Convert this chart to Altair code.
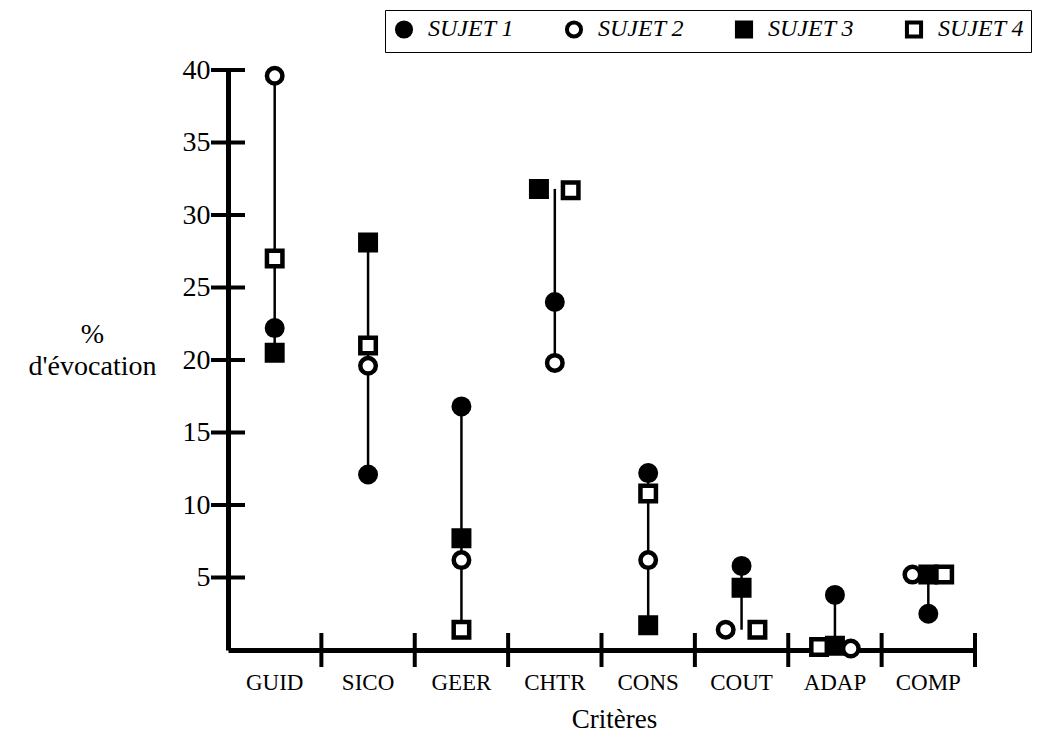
import altair as alt
import pandas as pd

criteres = ["GUID", "SICO", "GEER", "CHTR", "CONS", "COUT", "ADAP", "COMP"]
sujets = ["SUJET 1", "SUJET 2", "SUJET 3", "SUJET 4"]

sujet1 = [22.2, 12.1, 16.8, 24.0, 12.2, 5.8, 3.8, 2.5]
sujet2 = [39.6, 19.6, 6.2, 19.8, 6.2, 1.4, 0.1, 5.2]
sujet3 = [20.5, 28.1, 7.7, 31.8, 1.7, 4.3, 0.3, 5.2]
sujet4 = [27.0, 21.0, 1.4, 31.7, 10.8, 1.4, 0.2, 5.2]

# side-by-side slot of overlapping symbols (-1 left, 0 centre, +1 right)
slot1 = [0, 0, 0, 0, 0, 0, 0, 0]
slot2 = [0, 0, 0, 0, 0, -1, 1, -1]
slot3 = [0, 0, 0, -1, 0, 0, 0, 0]
slot4 = [0, 0, 0, 1, 0, 1, -1, 1]

y_ticks = [5, 10, 15, 20, 25, 30, 35, 40]

rows = []
for s, vals, slots in zip(sujets, [sujet1, sujet2, sujet3, sujet4], [slot1, slot2, slot3, slot4]):
    for i, (c, v, sl) in enumerate(zip(criteres, vals, slots)):
        rows.append({"critere": c, "idx": i, "sujet": s, "valeur": v, "slot": sl})
df = pd.DataFrame(rows)

cat_df = pd.DataFrame({"critere": criteres, "idx": list(range(len(criteres)))})
ytick_df = pd.DataFrame({"valeur": y_ticks})
xtick_df = pd.DataFrame({"idx": list(range(1, len(criteres) + 1))})

FONT = "Liberation Serif"
W, H = 747, 580

xscale = alt.Scale(domain=[0, len(criteres)], nice=False, zero=False)
yscale = alt.Scale(domain=[0, 40], nice=False)

xaxis = alt.Axis(title="Critères", labels=False, ticks=False, grid=False,
                 domainWidth=5, domainColor="black", titleFont=FONT,
                 titleFontSize=27, titleFontWeight="normal", titlePadding=56,
                 titleColor="black", titleX=386)
yaxis = alt.Axis(title=["%", "d'évocation"], values=y_ticks, ticks=False, grid=False,
                 domainWidth=5, domainColor="black", labelFont=FONT,
                 labelFontSize=28, labelColor="black", labelPadding=18,
                 titleFont=FONT, titleFontSize=28, titleFontWeight="normal",
                 titleAngle=0, titleAlign="center", titleBaseline="middle",
                 titleX=-136, titleY=264, titleLineHeight=32, titleColor="black")

rules = alt.Chart(df).transform_aggregate(
    ymin="min(valeur)", ymax="max(valeur)", groupby=["critere", "idx"]
).transform_calculate(
    xc="datum.idx + 0.5"
).mark_rule(color="black", strokeWidth=2.5).encode(
    x=alt.X("xc:Q", scale=xscale, axis=xaxis),
    y=alt.Y("ymin:Q", scale=yscale, axis=yaxis),
    y2="ymax:Q",
)

leg = alt.Legend(title=None, orient="none", legendX=157, legendY=-60,
                 direction="horizontal", columns=4, labelFont=FONT,
                 labelFontStyle="italic", labelFontSize=24, labelColor="black",
                 symbolSize=200, symbolStrokeWidth=4,
                 strokeColor="black", fillColor="white", padding=7,
                 columnPadding=44, labelOffset=12)

points = alt.Chart(df).transform_calculate(
    xp="datum.idx + 0.5 + datum.slot * 0.17"
).mark_point(filled=True, size=240, strokeWidth=4.5, opacity=1).encode(
    x=alt.X("xp:Q", scale=xscale, axis=xaxis),
    y=alt.Y("valeur:Q", scale=yscale, axis=yaxis),
    shape=alt.Shape("sujet:N", scale=alt.Scale(domain=sujets, range=["circle", "circle", "square", "square"]), legend=leg),
    fill=alt.Fill("sujet:N", scale=alt.Scale(domain=sujets, range=["black", "white", "black", "white"]), legend=leg),
    stroke=alt.Stroke("sujet:N", scale=alt.Scale(domain=sujets, range=["black", "black", "black", "black"]), legend=leg),
)

yticks = alt.Chart(ytick_df).transform_calculate(xz="0").mark_tick(
    orient="horizontal", size=34, thickness=4, color="black", opacity=1
).encode(
    x=alt.X("xz:Q", scale=xscale, axis=xaxis),
    y=alt.Y("valeur:Q", scale=yscale, axis=yaxis),
)

xticks = alt.Chart(xtick_df).transform_calculate(yz="0").mark_tick(
    orient="vertical", size=34, thickness=4, color="black", opacity=1
).encode(
    x=alt.X("idx:Q", scale=xscale, axis=xaxis),
    y=alt.Y("yz:Q", scale=yscale, axis=yaxis),
)

labels = alt.Chart(cat_df).transform_calculate(xc="datum.idx + 0.5").mark_text(
    font=FONT, fontSize=23, baseline="middle", align="center", color="black"
).encode(
    x=alt.X("xc:Q", scale=xscale, axis=xaxis),
    y=alt.value(H + 33),
    text="critere:N",
)

chart = alt.layer(rules, yticks, xticks, points, labels).properties(
    width=W, height=H,
    autosize=alt.AutoSizeParams(type="none"),
    padding={"left": 220, "top": 62, "right": 68, "bottom": 84},
    background="white",
).configure_view(stroke=None)

chart.save("out.html", embed_options={"renderer": "svg", "actions": False})
